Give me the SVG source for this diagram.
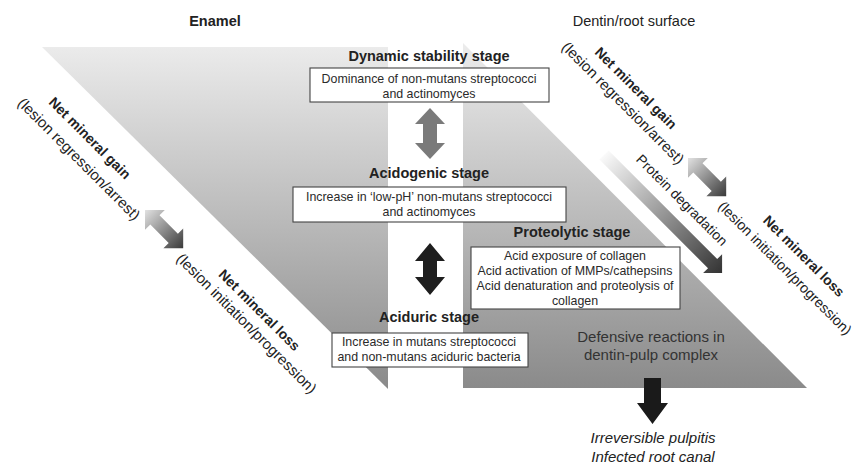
<svg xmlns="http://www.w3.org/2000/svg" width="861" height="464" viewBox="0 0 861 464">
<defs>
<linearGradient id="bg" gradientUnits="userSpaceOnUse" x1="0" y1="43" x2="0" y2="389">
<stop offset="0" stop-color="#ececec"/>
<stop offset="1" stop-color="#8a8a8a"/>
</linearGradient>
<linearGradient id="dbl" x1="0" y1="0" x2="1" y2="0">
<stop offset="0" stop-color="#e2e2e2"/>
<stop offset="1" stop-color="#3a3a3a"/>
</linearGradient>
<linearGradient id="prot" x1="0" y1="0" x2="1" y2="0">
<stop offset="0" stop-color="#fafafa"/>
<stop offset="1" stop-color="#333333"/>
</linearGradient>
<style>
text{font-family:"Liberation Sans",Arial,sans-serif;fill:#222;}
.hdr{font-size:14.5px;}
.b{font-weight:bold;}
.stage{font-size:14.5px;font-weight:bold;text-anchor:middle;}
.bt{font-size:12.4px;text-anchor:middle;fill:#2a2a2a;}
.box{fill:#fff;stroke:#444;stroke-width:1.1;}
.rb{font-size:14px;font-weight:bold;text-anchor:middle;}
.rl{font-size:15px;text-anchor:middle;}
.def{font-size:15px;text-anchor:middle;fill:#333;}
.it{font-size:15px;font-style:italic;text-anchor:middle;}
</style>
</defs>
<rect width="861" height="464" fill="#fff"/>
<g id="background">
<polygon points="42,47 388,47 388,389" fill="url(#bg)"/>
<polygon points="463,43 463,388 807,388" fill="url(#bg)"/>
</g>
<g id="headers">
<text class="hdr b" x="215" y="26" text-anchor="middle">Enamel</text>
<text class="hdr" x="634" y="26" text-anchor="middle">Dentin/root surface</text>
</g>
<g id="connectors">
<polygon id="arrow-grey" points="430,108 445,124 437,124 437,143 445,143 430,159 415,143 423,143 423,124 415,124" fill="#7a7a7a"/>
<polygon id="arrow-black" points="430,243 445,261 437,261 437,277 445,277 430,295 415,277 423,277 423,261 415,261" fill="#1e1e1e"/>
<polygon id="arrow-left" transform="translate(145,210) rotate(45)" points="0,0 14,-14 14,-6.5 40,-6.5 40,-14 54,0 40,14 40,6.5 14,6.5 14,14" fill="url(#dbl)"/>
<polygon id="arrow-right" transform="translate(688,158) rotate(45)" points="0,0 14,-14 14,-6.5 40,-6.5 40,-14 54,0 40,14 40,6.5 14,6.5 14,14" fill="url(#dbl)"/>
<polygon id="arrow-protein" transform="translate(604,155) rotate(45)" points="0,-6.5 153.6,-6.5 153.6,-13.4 167,0 153.6,13.4 153.6,6.5 0,6.5" fill="url(#prot)"/>
<polygon id="arrow-down" points="644,378 661,378 661,403 668,403 652.5,424 637,403 644,403" fill="#1a1a1a"/>
</g>
<g id="node-dynamic">
<text class="stage" x="429" y="61">Dynamic stability stage</text>
<rect class="box" x="310" y="68" width="239" height="34"/>
<text class="bt" x="429" y="82.5">Dominance of non-mutans streptococci</text>
<text class="bt" x="429" y="97.5">and actinomyces</text>
</g>
<g id="node-acidogenic">
<text class="stage" x="429" y="178">Acidogenic stage</text>
<rect class="box" x="293" y="187" width="273" height="35"/>
<text class="bt" x="429" y="200.5">Increase in ‘low-pH’ non-mutans streptococci</text>
<text class="bt" x="429" y="215.5">and actinomyces</text>
</g>
<g id="node-proteolytic">
<text class="stage" x="572" y="237">Proteolytic stage</text>
<rect class="box" x="471" y="247" width="209" height="62"/>
<text class="bt" x="575" y="259.5">Acid exposure of collagen</text>
<text class="bt" x="575" y="274.5">Acid activation of MMPs/cathepsins</text>
<text class="bt" x="575" y="289.5">Acid denaturation and proteolysis of</text>
<text class="bt" x="575" y="304.5">collagen</text>
</g>
<g id="node-aciduric">
<text class="stage" x="429" y="322">Aciduric stage</text>
<rect class="box" x="332" y="333" width="196" height="34"/>
<text class="bt" x="429" y="346">Increase in mutans streptococci</text>
<text class="bt" x="429" y="360.5">and non-mutans aciduric bacteria</text>
</g>
<g id="node-defensive">
<text class="def" x="651" y="342">Defensive reactions in</text>
<text class="def" x="651" y="360">dentin-pulp complex</text>
</g>
<g id="node-outcome">
<text class="it" x="653" y="443">Irreversible pulpitis</text>
<text class="it" x="653" y="462">Infected root canal</text>
</g>
<g id="labels-left">
<g transform="translate(90,138) rotate(45)"><text class="rb" x="0" y="5">Net mineral gain</text></g>
<g transform="translate(79,159) rotate(45)"><text class="rl" x="0" y="5">(lesion regression/arrest)</text></g>
<g transform="translate(259.5,310) rotate(45)"><text class="rb" x="0" y="5">Net mineral loss</text></g>
<g transform="translate(246.5,323.5) rotate(45)"><text class="rl" x="0" y="5">(lesion initiation/progression)</text></g>
</g>
<g id="labels-right">
<g transform="translate(636,88) rotate(45)"><text class="rb" x="0" y="5">Net mineral gain</text></g>
<g transform="translate(623,103) rotate(45)"><text class="rl" x="0" y="5">(lesion regression/arrest)</text></g>
<g transform="translate(682,200) rotate(45)"><text class="rl" x="0" y="5" style="font-size:14px">Protein degradation</text></g>
<g transform="translate(804,256) rotate(45)"><text class="rb" x="0" y="5">Net mineral loss</text></g>
<g transform="translate(785,268) rotate(45)"><text class="rl" x="0" y="5" style="font-size:14.3px">(lesion initiation/progression)</text></g>
</g>
</svg>
